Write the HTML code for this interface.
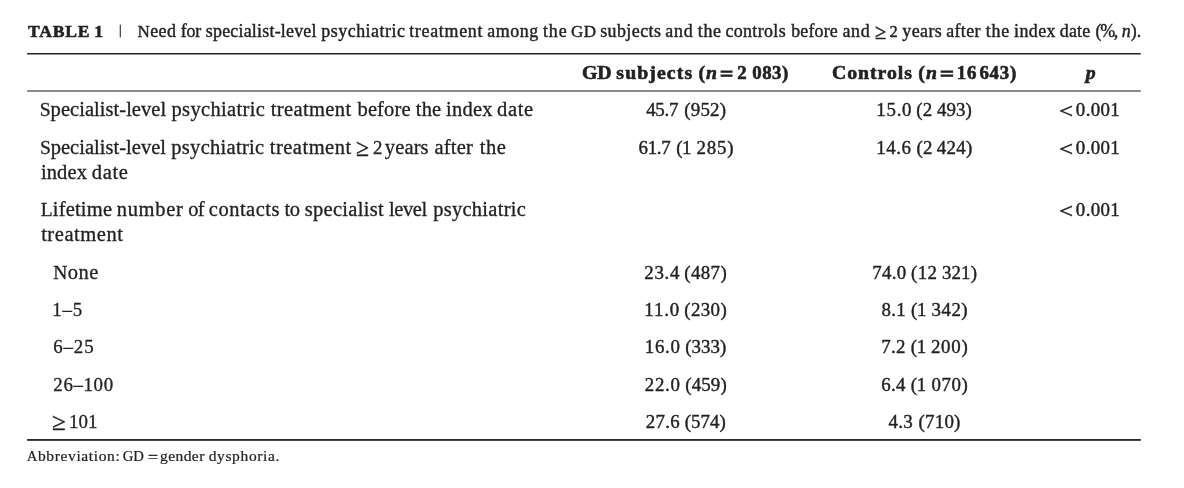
<!DOCTYPE html>
<html lang="en">
<head>
<meta charset="utf-8">
<title>Table 1</title>
<style>
html,body{margin:0;padding:0;background:#fff;}
body{width:1184px;height:488px;overflow:hidden;position:relative;font-family:"Liberation Serif","DejaVu Serif",serif;color:#222;}
.x{white-space:nowrap;display:inline-block;position:relative;-webkit-text-stroke:0.3px #222;}
.w{display:inline-block;white-space:nowrap;}
#rules{position:absolute;left:0;top:0;width:1184px;height:488px;pointer-events:none;}
#cap{position:absolute;left:0;top:19.00px;width:1184px;height:24px;line-height:24px;font-size:17.90px;white-space:nowrap;}
#cap .x{position:absolute;top:0;}
#cap b{font-weight:bold;}
#capt{-webkit-text-stroke-width:0.4px;}
#bar{position:absolute;left:119.10px;top:-1.00px;font-size:13.00px;color:#3a3a3a;-webkit-text-stroke:0.5px #3a3a3a;}
#capb{font-size:17.60px;-webkit-text-stroke-width:0.55px;}
table{position:absolute;left:27.20px;top:53.00px;width:1113.30px;border-collapse:collapse;table-layout:fixed;border-spacing:0;}
col.c1{width:534.00px;}
col.c2{width:249.00px;}
col.c3{width:229.00px;}
th,td{padding:0;margin:0;text-align:center;vertical-align:baseline;font-size:18.90px;line-height:25.00px;font-weight:normal;}
thead th{font-weight:bold;font-size:19.80px;height:38.00px;padding-top:7.00px;box-sizing:border-box;}
thead th .x{-webkit-text-stroke-width:0.6px;}
tbody td{padding-top:6.00px;box-sizing:border-box;}
tbody td .x{-webkit-text-stroke-width:0.4px;}
tbody td.lab .x{-webkit-text-stroke-width:0.3px;}
td.lab{text-align:left;padding-left:13.20px;font-size:20.50px;}
tr.sub td.lab{padding-left:26.20px;}
i{font-style:italic;}
.c{font-size:0.95em;}
#foot{position:absolute;left:0;top:446.00px;width:1184px;height:20px;line-height:20px;font-size:15.50px;white-space:nowrap;}
#foot .x{position:absolute;top:0;-webkit-text-stroke-width:0.22px;}
</style>
</head>
<body>
<div id="cap"><span id="capb" class="x" style="left:28.11px"><span class="w" style="letter-spacing:0.79px"><b>TABLE</b></span> <span class="w" style="letter-spacing:0.50px;margin-left:-0.51px"><b>1</b></span></span> <span id="bar">|</span> <span id="capt" class="x" style="left:137.57px"><span class="w" style="letter-spacing:0.39px"><span class="c">N</span>eed</span> <span class="w" style="letter-spacing:-0.19px;margin-left:-0.07px">for</span> <span class="w" style="letter-spacing:0.23px;margin-left:0.34px">specialist-level</span> <span class="w" style="letter-spacing:0.50px;margin-left:0.14px">psychiatric</span> <span class="w" style="letter-spacing:0.72px;margin-left:-0.72px">treatment</span> <span class="w" style="letter-spacing:0.56px;margin-left:-0.47px">among</span> <span class="w" style="letter-spacing:0.91px;margin-left:-0.20px">the</span> <span class="w" style="letter-spacing:0.45px;margin-left:-0.96px"><span class="c">GD</span></span> <span class="w" style="letter-spacing:0.45px;margin-left:-0.94px">subjects</span> <span class="w" style="letter-spacing:0.81px;margin-left:-0.59px">and</span> <span class="w" style="letter-spacing:0.65px;margin-left:-0.25px">the</span> <span class="w" style="letter-spacing:0.36px;margin-left:-0.64px">controls</span> <span class="w" style="letter-spacing:0.16px;margin-left:0.79px">before</span> <span class="w" style="letter-spacing:0.76px;margin-left:0.03px">and</span> <span class="w" style="letter-spacing:0.50px;transform:translateY(0.60px) scale(1.135,1.200);transform-origin:0 50%;margin-left:-0.32px">≥</span> <span class="w" style="letter-spacing:0.50px;font-size:0.920em;margin-left:0.86px">2</span> <span class="w" style="letter-spacing:0.45px;margin-left:-0.43px">years</span> <span class="w" style="letter-spacing:0.41px;margin-left:-0.62px">after</span> <span class="w" style="letter-spacing:0.81px;margin-left:0.37px">the</span> <span class="w" style="letter-spacing:0.42px;margin-left:-0.60px">index</span> <span class="w" style="letter-spacing:0.28px;margin-left:-0.69px">date</span> <span class="w" style="letter-spacing:-1.25px;margin-left:0.40px">(%,</span> <span class="w" style="letter-spacing:-0.01px;margin-left:0.26px"><i>n</i>).</span></span></div>
<svg id="rules" width="1184" height="488" viewBox="0 0 1184 488" aria-hidden="true">
<rect x="27.1" y="53.0" width="1113.7" height="1.5" fill="#262626"/>
<rect x="27.1" y="90.0" width="1113.7" height="2.0" fill="#8a8a8a"/>
<rect x="27.1" y="439.0" width="1113.7" height="1.85" fill="#2a2a2a"/>
</svg>
<table>
<colgroup><col class="c1"><col class="c2"><col class="c3"><col class="c4"></colgroup>
<thead>
<tr><th></th><th><span id="h2" class="x" style="left:-0.30px"><span class="w" style="letter-spacing:-0.24px">GD</span> <span class="w" style="letter-spacing:1.09px;margin-left:0.19px">subjects</span> <span class="w" style="letter-spacing:0.84px;margin-left:0.35px">(<i>n</i></span> <span class="w" style="letter-spacing:0.50px;-webkit-text-stroke-width:1.0px;transform:translateY(0.70px) scale(1.174,1.000);transform-origin:0 50%;margin-left:-1.42px">=</span> <span class="w" style="letter-spacing:0.50px;font-size:0.950em;margin-left:1.24px">2</span> <span class="w" style="letter-spacing:0.53px;font-size:0.950em;margin-left:0.02px">083)</span></span></th><th><span id="h3" class="x" style="left:-0.27px"><span class="w" style="letter-spacing:0.97px">Controls</span> <span class="w" style="letter-spacing:1.11px;margin-left:0.42px">(<i>n</i></span> <span class="w" style="letter-spacing:0.50px;-webkit-text-stroke-width:1.0px;transform:translateY(0.70px) scale(1.231,1.000);transform-origin:0 50%;margin-left:-2.40px">=</span> <span class="w" style="letter-spacing:0.77px;font-size:0.950em;margin-left:1.31px">16 643)</span></span></th><th><span id="h4" class="x" style="left:1.00px"><span class="w" style="letter-spacing:0.50px"><i>p</i></span></span></th></tr>
</thead>
<tbody>
<tr style="height:38px"><td class="lab"><span id="r1a0" class="x" style="left:-0.66px"><span class="w" style="letter-spacing:0.04px"><span class="c">S</span>pecialist-level</span> <span class="w" style="letter-spacing:0.34px;margin-left:0.23px">psychiatric</span> <span class="w" style="letter-spacing:0.39px;margin-left:0.35px">treatment</span> <span class="w" style="letter-spacing:0.12px;margin-left:0.82px">before</span> <span class="w" style="letter-spacing:0.12px;margin-left:0.13px">the</span> <span class="w" style="letter-spacing:0.28px;margin-left:-0.45px">index</span> <span class="w" style="letter-spacing:0.66px;margin-left:-1.04px">date</span></span></td><td><span id="r1b" class="x" style="left:0.51px"><span class="w" style="letter-spacing:-0.23px">45.7</span> <span class="w" style="letter-spacing:0.21px;margin-left:1.26px">(952)</span></span></td><td><span id="r1c" class="x" style="left:-0.71px"><span class="w" style="letter-spacing:0.74px">15.0</span> <span class="w" style="letter-spacing:0.29px;margin-left:-0.88px">(2</span> <span class="w" style="letter-spacing:-0.01px;margin-left:-0.11px">493)</span></span></td><td><span id="r1d" class="x" style="left:-0.35px"><span class="w" style="letter-spacing:0.50px;transform:translateY(1.30px) scale(1.318,1.100);transform-origin:0 50%">&lt;</span> <span class="w" style="letter-spacing:0.35px;margin-left:2.04px">0.001</span></span></td></tr>
<tr style="height:62px"><td class="lab"><span id="r2a0" class="x" style="left:-0.50px"><span class="w" style="letter-spacing:0.02px"><span class="c">S</span>pecialist-level</span> <span class="w" style="letter-spacing:0.29px;margin-left:0.17px">psychiatric</span> <span class="w" style="letter-spacing:0.50px;margin-left:0.20px">treatment</span> <span class="w" style="letter-spacing:0.50px;transform:translateY(0.60px) scale(1.159,1.200);transform-origin:0 50%;margin-left:-0.72px">≥</span> <span class="w" style="letter-spacing:0.50px;font-size:0.920em;margin-left:1.05px">2</span> <span class="w" style="letter-spacing:0.14px;margin-left:-2.26px">years</span> <span class="w" style="letter-spacing:0.20px;margin-left:0.69px">after</span> <span class="w" style="letter-spacing:0.48px;margin-left:1.57px">the</span></span><br><span id="r2a1" class="x" style="left:0.51px"><span class="w" style="letter-spacing:0.13px">index</span> <span class="w" style="letter-spacing:0.64px;margin-left:-0.45px">date</span></span></td><td><span id="r2b" class="x" style="left:0.83px"><span class="w" style="letter-spacing:-0.32px">61.7</span> <span class="w" style="letter-spacing:-0.51px;margin-left:1.32px">(1</span> <span class="w" style="letter-spacing:0.85px;margin-left:0.70px">285)</span></span></td><td><span id="r2c" class="x" style="left:-0.23px"><span class="w" style="letter-spacing:0.54px">14.6</span> <span class="w" style="letter-spacing:0.29px;margin-left:0.26px">(2</span> <span class="w" style="letter-spacing:0.33px;margin-left:-0.75px">424)</span></span></td><td><span id="r2d" class="x" style="left:-0.35px"><span class="w" style="letter-spacing:0.50px;transform:translateY(1.30px) scale(1.318,1.100);transform-origin:0 50%">&lt;</span> <span class="w" style="letter-spacing:0.35px;margin-left:2.04px">0.001</span></span></td></tr>
<tr style="height:63px"><td class="lab"><span id="r3a0" class="x" style="left:0.29px"><span class="w" style="letter-spacing:0.20px"><span class="c">L</span>ifetime</span> <span class="w" style="letter-spacing:0.70px;margin-left:-0.65px">number</span> <span class="w" style="letter-spacing:-0.79px;margin-left:-0.44px">of</span> <span class="w" style="letter-spacing:0.50px;margin-left:-0.06px">contacts</span> <span class="w" style="letter-spacing:-0.46px;margin-left:-0.61px">to</span> <span class="w" style="letter-spacing:0.29px;margin-left:0.12px">specialist</span> <span class="w" style="letter-spacing:-0.43px;margin-left:-0.11px">level</span> <span class="w" style="letter-spacing:0.27px;margin-left:1.40px">psychiatric</span></span><br><span id="r3a1" class="x" style="left:0.75px"><span class="w" style="letter-spacing:0.55px">treatment</span></span></td><td></td><td></td><td><span id="r3d" class="x" style="left:-0.35px"><span class="w" style="letter-spacing:0.50px;transform:translateY(1.30px) scale(1.318,1.100);transform-origin:0 50%">&lt;</span> <span class="w" style="letter-spacing:0.35px;margin-left:2.04px">0.001</span></span></td></tr>
<tr class="sub" style="height:37px"><td class="lab"><span id="r4a0" class="x" style="left:-0.09px"><span class="w" style="letter-spacing:0.45px"><span class="c">N</span>one</span></span></td><td><span id="r4b" class="x"><span class="w" style="letter-spacing:0.74px">23.4</span> <span class="w" style="letter-spacing:0.38px;margin-left:-0.71px">(487)</span></span></td><td><span id="r4c" class="x" style="left:0.05px"><span class="w" style="letter-spacing:0.26px">74.0</span> <span class="w" style="letter-spacing:0.41px;margin-left:-0.07px">(12</span> <span class="w" style="letter-spacing:0.16px;margin-left:-0.30px">321)</span></span></td><td></td></tr>
<tr class="sub" style="height:37px"><td class="lab"><span id="r5a0" class="x" style="left:-1.17px"><span class="w" style="letter-spacing:0.83px;font-size:0.920em">1–5</span></span></td><td><span id="r5b" class="x" style="left:0.02px"><span class="w" style="letter-spacing:0.86px">11.0</span> <span class="w" style="letter-spacing:0.38px;margin-left:-0.55px">(230)</span></span></td><td><span id="r5c" class="x" style="left:0.11px"><span class="w" style="letter-spacing:0.39px">8.1</span> <span class="w" style="letter-spacing:-0.31px;margin-left:0.13px">(1</span> <span class="w" style="letter-spacing:0.50px;margin-left:0.62px">342)</span></span></td><td></td></tr>
<tr class="sub" style="height:38px"><td class="lab"><span id="r6a0" class="x" style="left:-0.24px"><span class="w" style="letter-spacing:0.92px;font-size:0.920em">6–25</span></span></td><td><span id="r6b" class="x" style="left:-0.17px"><span class="w" style="letter-spacing:0.71px">16.0</span> <span class="w" style="letter-spacing:0.04px;margin-left:-0.27px">(333)</span></span></td><td><span id="r6c" class="x" style="left:0.18px"><span class="w" style="letter-spacing:0.31px">7.2</span> <span class="w" style="letter-spacing:-0.30px;margin-left:0.05px">(1</span> <span class="w" style="letter-spacing:0.71px;margin-left:0.42px">200)</span></span></td><td></td></tr>
<tr class="sub" style="height:37px"><td class="lab"><span id="r7a0" class="x" style="left:-0.08px"><span class="w" style="letter-spacing:0.65px;font-size:0.920em">26–100</span></span></td><td><span id="r7b" class="x" style="left:0.12px"><span class="w" style="letter-spacing:0.69px">22.0</span> <span class="w" style="letter-spacing:0.12px">(459)</span></span></td><td><span id="r7c" class="x" style="left:0.15px"><span class="w" style="letter-spacing:0.29px">6.4</span> <span class="w" style="letter-spacing:-0.28px;margin-left:0.09px">(1</span> <span class="w" style="letter-spacing:0.57px;margin-left:0.85px">070)</span></span></td><td></td></tr>
<tr class="sub" style="height:37px"><td class="lab"><span id="r8a0" class="x" style="left:-1.02px"><span class="w" style="letter-spacing:0.50px;transform:translateY(0.60px) scale(1.225,1.200);transform-origin:0 50%">≥</span> <span class="w" style="letter-spacing:0.05px;font-size:0.920em;margin-left:0.89px">101</span></span></td><td><span id="r8b" class="x" style="left:0.06px"><span class="w" style="letter-spacing:0.30px">27.6</span> <span class="w" style="letter-spacing:0.01px;margin-left:-0.02px">(574)</span></span></td><td><span id="r8c" class="x" style="left:-0.19px"><span class="w" style="letter-spacing:0.36px">4.3</span> <span class="w" style="letter-spacing:0.23px;margin-left:0.69px">(710)</span></span></td><td></td></tr>
</tbody>
</table>
<div id="foot"><span id="foot1" class="x" style="left:26.73px"><span class="w" style="letter-spacing:0.63px"><span class="c">A</span>bbreviation:</span> <span class="w" style="letter-spacing:-0.15px;margin-left:-1.49px"><span class="c">GD</span></span> <span class="w" style="letter-spacing:0.50px;-webkit-text-stroke-width:0.5px;transform:translateY(1.50px) scale(1.142,0.900);transform-origin:0 50%;margin-left:0.66px">=</span> <span class="w" style="letter-spacing:0.43px;margin-left:0.09px">gender</span> <span class="w" style="letter-spacing:0.64px;margin-left:-0.01px">dysphoria.</span></span></div>
</body>
</html>
